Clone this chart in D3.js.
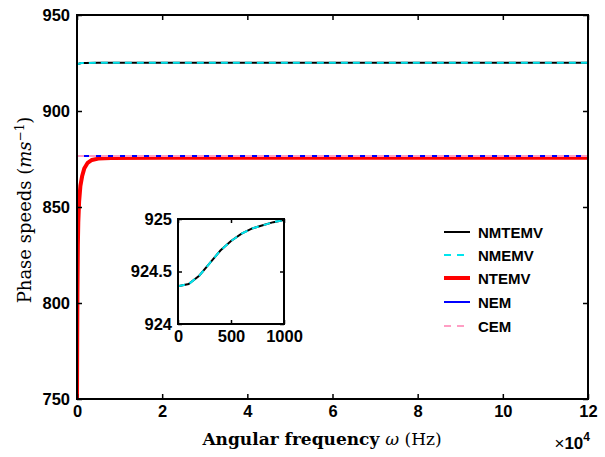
<!DOCTYPE html>
<html>
<head>
<meta charset="utf-8">
<script src="https://cdn.jsdelivr.net/npm/d3@7"></script>
<style>
  html, body { margin: 0; padding: 0; background: #fff; }
  svg text { font-family: "Liberation Sans", Arial, sans-serif; }
</style>
</head>
<body>
<svg id="chart" width="605" height="457"></svg>
<script>
// Angular frequency samples (Hz) and phase speeds (m/s) for each model
const omegaFull = [0, 1000, 2000, 5000, 10000, 20000, 40000, 60000, 80000, 100000, 120000];
const nmtemv = [924.36, 924.99, 925.05, 925.08, 925.1, 925.1, 925.1, 925.1, 925.1, 925.1, 925.1];
const nmemv  = [924.36, 924.99, 925.05, 925.08, 925.1, 925.1, 925.1, 925.1, 925.1, 925.1, 925.1];
const nem    = [876.6, 876.6, 876.6, 876.6, 876.6, 876.6, 876.6, 876.6, 876.6, 876.6, 876.6];
const cem    = [876.6, 876.6, 876.6, 876.6, 876.6, 876.6, 876.6, 876.6, 876.6, 876.6, 876.6];

const omegaNtemv = [0, 50, 100, 200, 300, 500, 800, 1200, 1700, 2500, 3500, 5000, 8000, 20000, 60000, 120000];
const ntemv      = [750, 782, 805, 830, 842, 853, 861, 866, 870, 873, 874.5, 875.2, 875.5, 875.6, 875.6, 875.6];

// Low-frequency detail of NMTEMV / NMEMV
const omegaInset = [0, 100, 200, 300, 400, 500, 600, 700, 800, 900, 1000];
const insetVals  = [924.36, 924.38, 924.46, 924.58, 924.70, 924.79, 924.86, 924.91, 924.94, 924.97, 924.99];

const xTicks = [0, 20000, 40000, 60000, 80000, 100000, 120000];
const xTickLabels = ["0", "2", "4", "6", "8", "10", "12"];
const yTicks = [750, 800, 850, 900, 950];
const insetXTicks = [0, 500, 1000];
const insetYTicks = [924, 924.5, 925];
const insetYLabels = ["924", "924.5", "925"];

const seriesNames = ["NMTEMV", "NMEMV", "NTEMV", "NEM", "CEM"];
const seriesColors = ["#000000", "#00e5ee", "#ff0000", "#0000ff", "#ff9ec4"];

const svg = d3.select("#chart");
const M = { left: 77, right: 588, top: 15, bottom: 399 };

const x = d3.scaleLinear().domain([0, 120000]).range([M.left, M.right]);
const y = d3.scaleLinear().domain([750, 950]).range([M.bottom, M.top]);

svg.append("defs").append("clipPath").attr("id", "plotClip")
  .append("rect").attr("x", M.left).attr("y", M.top)
  .attr("width", M.right - M.left).attr("height", M.bottom - M.top);

const line = (xs, sx, sy) => d3.line().x((d, i) => sx(xs[i])).y(d => sy(d));

const plot = svg.append("g").attr("clip-path", "url(#plotClip)");
const dash = "7,5";

function drawSeries(g, xs, vals, sx, sy, color, width, dashed) {
  g.append("path").datum(vals)
    .attr("d", line(xs, sx, sy))
    .attr("fill", "none").attr("stroke", color)
    .attr("stroke-width", width)
    .attr("stroke-dasharray", dashed ? dash : null);
}

drawSeries(plot, omegaFull, nmtemv, x, y, seriesColors[0], 2, false);
drawSeries(plot, omegaFull, nmemv, x, y, seriesColors[1], 2, true);
drawSeries(plot, omegaNtemv, ntemv, x, y, seriesColors[2], 4, false);
drawSeries(plot, omegaFull, nem, x, y, seriesColors[3], 2, false);
drawSeries(plot, omegaFull, cem, x, y, seriesColors[4], 2, true);

// Axes with inward ticks on all four sides
const tickFont = "bold 16.5px 'Liberation Sans', Arial, sans-serif";
const xAxis = d3.axisBottom(x).tickValues(xTicks).tickFormat((d, i) => xTickLabels[i]).tickSizeInner(-5).tickSizeOuter(0).tickPadding(6);
const yAxis = d3.axisLeft(y).tickValues(yTicks).tickFormat(d3.format("d")).tickSizeInner(-5).tickSizeOuter(0).tickPadding(7);

function styleAxis(g) {
  g.select(".domain").remove();
  g.selectAll(".tick line").attr("stroke", "#000").attr("stroke-width", 1.5);
  g.selectAll(".tick text").attr("fill", "#000").style("font", tickFont);
}
svg.append("g").attr("transform", `translate(0,${M.bottom})`).call(xAxis).call(styleAxis);
svg.append("g").attr("transform", `translate(${M.left},0)`).call(yAxis).call(styleAxis);
svg.append("g").attr("transform", `translate(0,${M.top})`)
  .call(d3.axisTop(x).tickValues(xTicks).tickFormat("").tickSizeInner(-5).tickSizeOuter(0)).call(styleAxis);
svg.append("g").attr("transform", `translate(${M.right},0)`)
  .call(d3.axisRight(y).tickValues(yTicks).tickFormat("").tickSizeInner(-5).tickSizeOuter(0)).call(styleAxis);

svg.append("rect").attr("x", M.left).attr("y", M.top)
  .attr("width", M.right - M.left).attr("height", M.bottom - M.top)
  .attr("fill", "none").attr("stroke", "#000").attr("stroke-width", 2);

// Axis titles
const serif = "'DejaVu Serif', 'Liberation Serif', serif";
const xl = svg.append("text").attr("x", 322).attr("y", 445).attr("text-anchor", "middle")
  .style("font-family", serif).style("font-size", "17px");
xl.append("tspan").attr("font-weight", "bold").text("Angular frequency ");
xl.append("tspan").attr("font-style", "italic").text("ω");
xl.append("tspan").text(" (Hz)");

const yl = svg.append("text").attr("transform", "translate(31,210) rotate(-90)").attr("text-anchor", "middle")
  .style("font-family", serif).style("font-size", "18px");
yl.append("tspan").text("Phase speeds  (");
yl.append("tspan").attr("font-style", "italic").text("ms");
yl.append("tspan").attr("font-size", "12px").attr("dy", -7).text("−1");
yl.append("tspan").attr("dy", 7).text(")");

const mult = svg.append("text").attr("x", 590).attr("y", 449).attr("text-anchor", "end")
  .style("font-family", "'Liberation Sans', Arial, sans-serif").style("font-size", "17px");
mult.append("tspan").text("×");
mult.append("tspan").attr("font-weight", "bold").text("10");
mult.append("tspan").attr("font-weight", "bold").attr("font-size", "12px").attr("dy", -8).text("4");

// Legend
const legRows = [232, 255, 278, 302, 326];
const leg = svg.append("g");
seriesNames.forEach((name, i) => {
  const gy = legRows[i];
  const dashed = i === 1 || i === 4;
  leg.append("line").attr("x1", 444).attr("x2", 470).attr("y1", gy).attr("y2", gy)
    .attr("stroke", seriesColors[i]).attr("stroke-width", i === 2 ? 4 : 2)
    .attr("stroke-dasharray", dashed ? "7,6" : null);
  if (i === 2) leg.append("circle").attr("cx", 457).attr("cy", gy).attr("r", 1.5).attr("fill", seriesColors[i]);
  leg.append("text").attr("x", 478).attr("y", gy + 5.5)
    .style("font", "bold 15px 'Liberation Sans', Arial, sans-serif").text(name);
});

// Inset: low-frequency detail
const IN = { left: 178, right: 284, top: 219, bottom: 324 };
const xi = d3.scaleLinear().domain([0, 1000]).range([IN.left, IN.right]);
const yi = d3.scaleLinear().domain([924, 925]).range([IN.bottom, IN.top]);
const inset = svg.append("g");
inset.append("rect").attr("x", IN.left).attr("y", IN.top)
  .attr("width", IN.right - IN.left).attr("height", IN.bottom - IN.top).attr("fill", "#fff");
drawSeries(inset, omegaInset, insetVals, xi, yi, seriesColors[0], 2, false);
drawSeries(inset, omegaInset, insetVals, xi, yi, seriesColors[1], 2, true);

inset.append("g").attr("transform", `translate(0,${IN.bottom})`)
  .call(d3.axisBottom(xi).tickValues(insetXTicks).tickFormat(d3.format("d")).tickSizeInner(-4).tickSizeOuter(0).tickPadding(6)).call(styleAxis);
inset.append("g").attr("transform", `translate(${IN.left},0)`)
  .call(d3.axisLeft(yi).tickValues(insetYTicks).tickFormat((d, i) => insetYLabels[i]).tickSizeInner(-4).tickSizeOuter(0).tickPadding(6)).call(styleAxis);
inset.append("g").attr("transform", `translate(0,${IN.top})`)
  .call(d3.axisTop(xi).tickValues(insetXTicks).tickFormat("").tickSizeInner(-4).tickSizeOuter(0)).call(styleAxis);
inset.append("g").attr("transform", `translate(${IN.right},0)`)
  .call(d3.axisRight(yi).tickValues(insetYTicks).tickFormat("").tickSizeInner(-4).tickSizeOuter(0)).call(styleAxis);
inset.append("rect").attr("x", IN.left).attr("y", IN.top)
  .attr("width", IN.right - IN.left).attr("height", IN.bottom - IN.top)
  .attr("fill", "none").attr("stroke", "#000").attr("stroke-width", 2);
</script>
</body>
</html>
